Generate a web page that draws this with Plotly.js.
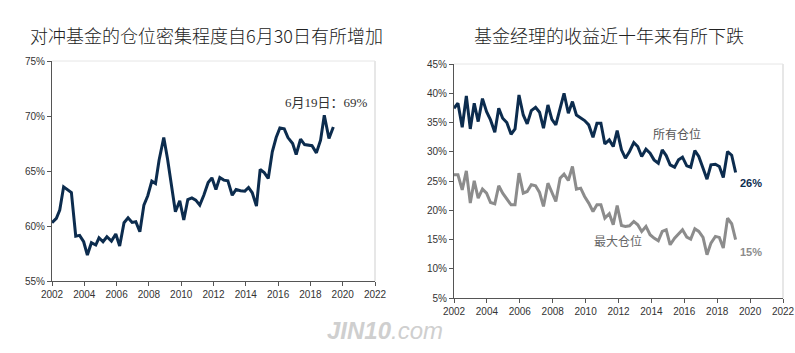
<!DOCTYPE html>
<html>
<head>
<meta charset="utf-8">
<script src="https://cdn.plot.ly/plotly-3.0.1.min.js"></script>
<style>html,body{margin:0;padding:0;background:#fff;}#chart{width:795px;height:353px;}</style>
</head>
<body>
<div id="chart"></div>
<script>
// Left chart: hedge fund crowding (%)
const leftYears = [2002.0,2002.27,2002.48,2002.72,2003.2,2003.47,2003.71,2003.96,2004.19,2004.44,2004.71,2004.91,2005.16,2005.4,2005.68,2005.95,2006.19,2006.46,2006.71,2006.96,2007.19,2007.44,2007.69,2007.93,2008.18,2008.41,2008.63,2008.92,2009.15,2009.4,2009.64,2009.91,2010.16,2010.41,2010.66,2010.9,2011.15,2011.4,2011.67,2011.9,2012.15,2012.39,2012.64,2012.89,2013.16,2013.4,2013.67,2013.94,2014.17,2014.4,2014.66,2014.89,2015.14,2015.39,2015.64,2015.88,2016.11,2016.38,2016.61,2016.9,2017.12,2017.39,2017.64,2018.1,2018.37,2018.63,2018.86,2019.15,2019.42];
const leftValues = [60.3,60.7,61.45,63.56,63.05,59.08,59.15,58.57,57.36,58.48,58.27,58.93,58.57,59.02,58.63,59.27,58.18,60.3,60.75,60.33,60.39,59.48,61.9,62.75,64.08,63.87,65.98,68.04,66.13,63.56,61.3,62.29,60.54,62.41,62.56,62.35,61.9,62.8,63.96,64.38,63.32,64.41,64.17,64.11,62.8,63.32,63.2,63.17,63.5,63.02,61.81,65.14,64.86,64.32,66.74,68.04,68.92,68.83,68.04,67.5,66.5,67.89,67.4,67.3,66.65,67.8,70.07,67.95,69.0];

// Right chart: fund manager returns (%)
const rightYears = [2002.0,2002.24,2002.5,2002.75,2002.99,2003.23,2003.47,2003.73,2003.98,2004.22,2004.48,2004.72,2004.96,2005.21,2005.47,2005.71,2005.95,2006.21,2006.45,2006.7,2006.96,2007.2,2007.44,2007.71,2007.95,2008.19,2008.45,2008.69,2008.95,2009.2,2009.44,2009.7,2009.94,2010.19,2010.45,2010.69,2010.93,2011.17,2011.44,2011.68,2011.92,2012.18,2012.42,2012.67,2012.93,2013.17,2013.41,2013.67,2013.92,2014.16,2014.42,2014.66,2014.9,2015.14,2015.41,2015.65,2015.89,2016.15,2016.39,2016.64,2016.88,2017.14,2017.38,2017.62,2017.89,2018.13,2018.37,2018.63,2018.88,2019.12];
const allPositions = [37.43,38.29,34.19,39.54,33.9,38.29,35.16,39.08,36.86,35.44,33.34,37.43,35.73,34.99,32.99,33.9,39.71,36.29,34.76,37.03,37.6,36.75,34.02,38.0,35.55,34.59,37.43,39.99,36.58,38.57,36.29,35.73,35.33,34.59,32.48,34.87,34.87,31.34,32.03,30.89,33.62,30.32,28.9,30.04,31.57,30.89,29.18,30.43,29.75,28.61,28.04,30.32,29.35,27.76,27.36,28.61,29.07,27.59,27.36,30.21,29.18,27.19,25.31,27.76,27.87,27.47,25.6,30.04,29.41,26.45];
const topPositions = [26.05,26.05,23.49,26.74,21.22,25.03,22.07,23.61,22.92,21.33,21.1,24.18,22.92,21.9,20.93,20.93,26.34,22.92,23.21,24.35,24.18,23.04,20.65,24.63,22.92,21.5,25.48,26.17,25.09,27.48,23.61,23.78,22.35,21.22,19.79,20.93,20.93,18.66,19.4,17.52,20.82,17.4,17.23,17.35,18.09,17.52,16.38,17.23,15.81,15.24,14.79,16.38,16.66,14.1,15.24,15.92,16.66,15.41,15.07,16.83,16.38,15.36,12.4,14.39,15.53,15.36,13.54,18.66,17.69,14.96];

const xTicks = [2002,2004,2006,2008,2010,2012,2014,2016,2018,2020,2022];
const leftTitle = '对冲基金的仓位密集程度自6月30日有所增加';
const rightTitle = '基金经理的收益近十年来有所下跌';
const seriesNames = ['所有仓位','最大仓位'];

const navy = '#0c2c4e', gray = '#8c8c8c';
const tickFont = {family:'Liberation Sans, Arial, sans-serif', size:10, color:'#333'};

const traces = [
  {x:leftYears, y:leftValues, type:'scatter', mode:'lines', line:{color:navy, width:3}, xaxis:'x', yaxis:'y', hoverinfo:'skip'},
  {x:rightYears, y:allPositions, type:'scatter', mode:'lines', line:{color:navy, width:3}, xaxis:'x2', yaxis:'y2', name:seriesNames[0], hoverinfo:'skip'},
  {x:rightYears, y:topPositions, type:'scatter', mode:'lines', line:{color:gray, width:3}, xaxis:'x2', yaxis:'y2', name:seriesNames[1], hoverinfo:'skip'}
];

function xax(domain, anchor){
  return {domain:domain, anchor:anchor, range:[2002,2022], tickvals:xTicks, ticktext:xTicks.map(String),
    showgrid:false, zeroline:false, showline:true, linecolor:'#555', linewidth:1,
    ticks:'outside', ticklen:4, tickcolor:'#555', tickfont:tickFont, ticklabeloverflow:'allow'};
}
function yax(domain, anchor, range){
  return {domain:domain, anchor:anchor, range:range, dtick:5, ticksuffix:'%',
    showgrid:false, zeroline:false, showline:true, linecolor:'#555', linewidth:1,
    ticks:'outside', ticklen:4, tickcolor:'#555', tickfont:tickFont};
}

const layout = {
  width:795, height:353, margin:{l:0,r:0,t:0,b:0},
  paper_bgcolor:'#fff', plot_bgcolor:'#fff', showlegend:false,
  xaxis: xax([52/795, 375/795], 'y'),
  yaxis: yax([1-281/353, 1-61/353], 'x', [55,75]),
  xaxis2: xax([454/795, 783/795], 'y2'),
  yaxis2: yax([1-298/353, 1-64/353], 'x2', [5,45]),
  shapes:[
    {type:'line', xref:'x domain', yref:'y domain', x0:1, x1:1, y0:0, y1:1, line:{color:'#cfcfcf', width:1}},
    {type:'line', xref:'x domain', yref:'y domain', x0:0, x1:1, y0:1, y1:1, line:{color:'#e6e6e6', width:1}},
    {type:'line', xref:'x2 domain', yref:'y2 domain', x0:1, x1:1, y0:0, y1:1, line:{color:'#cfcfcf', width:1}},
    {type:'line', xref:'x2 domain', yref:'y2 domain', x0:0, x1:1, y0:1, y1:1, line:{color:'#e6e6e6', width:1}}
  ],
  annotations:[
    {text:leftTitle, xref:'paper', yref:'paper', x:28/795, y:1-34.5/353, xanchor:'left', yanchor:'middle', showarrow:false,
     font:{family:'Noto Sans CJK SC, sans-serif', size:18, color:'#222', weight:300}},
    {text:rightTitle, xref:'paper', yref:'paper', x:472/795, y:1-34.5/353, xanchor:'left', yanchor:'middle', showarrow:false,
     font:{family:'Noto Sans CJK SC, sans-serif', size:18, color:'#222', weight:300}},
    {text:'6月19日：69%', xref:'x', yref:'y', x:2018.97, y:71.2, xanchor:'center', yanchor:'middle', showarrow:false,
     font:{family:'Liberation Serif, Noto Sans CJK SC, serif', size:13, color:'#333'}},
    {text:seriesNames[0], xref:'x2', yref:'y2', x:2014.0, y:33.2, xanchor:'left', yanchor:'middle', showarrow:false,
     font:{family:'Noto Sans CJK SC, sans-serif', size:12, color:'#555'}},
    {text:seriesNames[1], xref:'x2', yref:'y2', x:2010.4, y:14.9, xanchor:'left', yanchor:'middle', showarrow:false,
     font:{family:'Noto Sans CJK SC, sans-serif', size:12, color:'#666'}},
    {text:'<b>26%</b>', xref:'x2', yref:'y2', x:2019.28, y:24.66, xanchor:'left', yanchor:'middle', showarrow:false,
     font:{family:'Liberation Sans, Arial, sans-serif', size:11, color:navy}},
    {text:'<b>15%</b>', xref:'x2', yref:'y2', x:2019.28, y:12.86, xanchor:'left', yanchor:'middle', showarrow:false,
     font:{family:'Liberation Sans, Arial, sans-serif', size:11, color:gray}},
    {text:'<b><i>JIN10</i></b><i>.com</i>', xref:'paper', yref:'paper', x:385/795, y:1-330/353, xanchor:'center', yanchor:'middle', showarrow:false,
     font:{family:'Liberation Sans, Arial, sans-serif', size:24, color:'#cfcfcf'}}
  ]
};

Plotly.newPlot('chart', traces, layout, {staticPlot:true, displayModeBar:false});
</script>
</body>
</html>
